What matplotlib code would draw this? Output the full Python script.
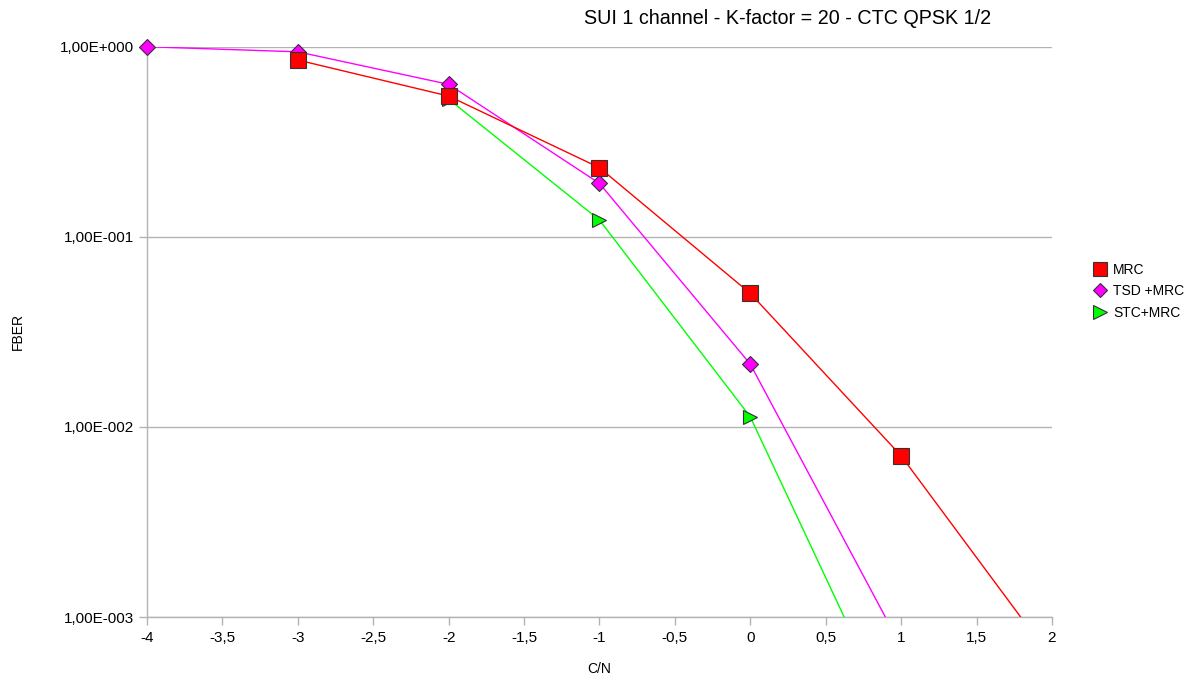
import matplotlib
matplotlib.use("Agg")
import matplotlib.pyplot as plt
from matplotlib.ticker import FixedLocator, FuncFormatter, NullLocator
from matplotlib.lines import Line2D
import numpy as np

plt.rcParams['font.family'] = ['Liberation Sans', 'DejaVu Sans']

title = "SUI 1 channel - K-factor = 20 - CTC QPSK 1/2"
x_label = "C/N"
y_label = "FBER"

mrc_x = [-3, -2, -1, 0, 1, 2]
mrc_y = [0.851, 0.550, 0.231, 0.0504, 0.00705, 0.00060]

tsd_x = [-4, -3, -2, -1, 0, 1]
tsd_y = [1.0, 0.94, 0.634, 0.191, 0.0214, 0.00070]

stc_x = [-2, -1, 0, 1]
stc_y = [0.53, 0.1225, 0.0113, 0.00023]

series = [
    ("STC+MRC", stc_x, stc_y, "#00ff00", ">", 3),
    ("TSD +MRC", tsd_x, tsd_y, "#ff00ff", "D", 4),
    ("MRC", mrc_x, mrc_y, "#ff0000", "s", 5),
]
marker_sizes = {"s": 11, "D": 7.8, ">": 10.5}
legend_order = ["MRC", "TSD +MRC", "STC+MRC"]

y_min, y_max = 1e-3, 1.0
x_ticks = np.arange(-4, 2.01, 0.5)
y_ticks = [1e0, 1e-1, 1e-2, 1e-3]

fig = plt.figure(figsize=(11.94, 6.79), dpi=100)
ax = fig.add_axes([0.1231, 0.0913, 0.881 - 0.1231, 0.9312 - 0.0913])

handles = {}
for name, xs, ys, col, mk, z in series:
    xs = np.array(xs, dtype=float)
    ys = np.array(ys, dtype=float)
    ax.plot(xs, ys, color=col, lw=1.0, zorder=z)
    m = (ys >= y_min) & (ys <= y_max)
    ax.plot(xs[m], ys[m], linestyle="none", marker=mk, ms=marker_sizes[mk],
            markerfacecolor=col, markeredgecolor="#333333", markeredgewidth=0.8,
            zorder=z + 0.5, clip_on=False)
    handles[name] = Line2D([], [], linestyle="none", marker=mk, ms=marker_sizes[mk] * 0.9,
                           markerfacecolor=col, markeredgecolor="#333333",
                           markeredgewidth=0.8)

ax.set_yscale("log")
ax.set_ylim(y_min, y_max)
ax.set_xlim(-4, 2)

ax.xaxis.set_major_locator(FixedLocator(x_ticks))
ax.xaxis.set_major_formatter(FuncFormatter(
    lambda v, p: (("%g" % v).replace(".", ","))))
ax.yaxis.set_major_locator(FixedLocator(y_ticks))
ax.yaxis.set_minor_locator(NullLocator())


def yfmt(v, p):
    e = int(round(np.log10(v)))
    sign = "+" if e >= 0 else "-"
    return "1,00E%s%03d" % (sign, abs(e))


ax.yaxis.set_major_formatter(FuncFormatter(yfmt))

ax.grid(axis="y", color="#b3b3b3", lw=1.0)
ax.set_axisbelow(True)
for s in ["top", "right"]:
    ax.spines[s].set_visible(False)
for s in ["left", "bottom"]:
    ax.spines[s].set_color("#b3b3b3")
    ax.spines[s].set_linewidth(1.0)
ax.tick_params(axis="both", colors="#b3b3b3", labelcolor="black",
               labelsize=11, length=6, width=1.0)
ax.tick_params(axis="y", pad=3)
ax.tick_params(axis="x", pad=4)

ax.set_xlabel(x_label, fontsize=10, labelpad=12)
fig.text(18 / 1194, 1 - 331 / 679, y_label, rotation=90, ha="center", va="center",
         fontsize=10)
fig.text(788 / 1194, 1 - 18 / 679, title, ha="center", va="center", fontsize=14.2)

fig.legend([handles[n] for n in legend_order], legend_order,
           loc="upper left", bbox_to_anchor=(1086 / 1194, 1 - 257 / 679),
           frameon=False, fontsize=10, handletextpad=0.35, handlelength=1.2,
           labelspacing=0.55, borderaxespad=0)

fig.savefig("out.png", dpi=100)
